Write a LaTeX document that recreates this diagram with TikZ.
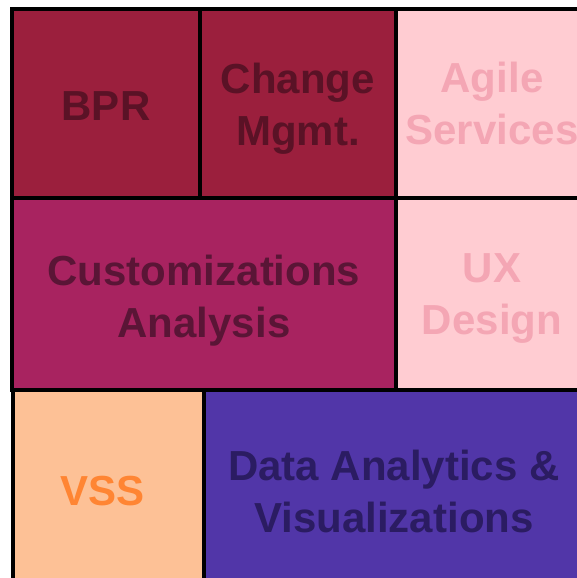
\documentclass[tikz,border=0pt]{standalone}
\usepackage{fontspec}
\setmainfont{Liberation Sans}
\definecolor{bprfill}{HTML}{9B1F3D}
\definecolor{bprtext}{HTML}{5A1226}
\definecolor{agilefill}{HTML}{FFCCD2}
\definecolor{agiletext}{HTML}{F4A6B4}
\definecolor{custfill}{HTML}{A82360}
\definecolor{custtext}{HTML}{5A1536}
\definecolor{vssfill}{HTML}{FDC196}
\definecolor{vsstext}{HTML}{FF8533}
\definecolor{datafill}{HTML}{5136A8}
\definecolor{datatext}{HTML}{2B1C62}
\tikzset{
  tile/.style={draw=black, line width=4pt, rectangle, inner sep=0pt, outer sep=0pt,
    align=center, font=\fontsize{42}{52}\selectfont\bfseries},
}
\begin{document}
\begin{tikzpicture}[x=1pt,y=-1pt]
\useasboundingbox (0,0) rectangle (577,578);
\clip (0,0) rectangle (577,578);
\fill[white] (0,0) rectangle (577,578);
\node[tile, fill=bprfill, text=bprtext, minimum width=188pt, minimum height=189pt] (bpr) at (106,103.5) {\rule{0pt}{34pt}BPR};
\node[tile, fill=bprfill, text=bprtext, minimum width=196pt, minimum height=189pt] (chg) at (298,103.5) {\rule{0pt}{40pt}Change\\Mgmt.};
\node[tile, fill=agilefill, text=agiletext, minimum width=192pt, minimum height=189pt] (agile) at (492,103.5) {Agile\\Services};
\node[tile, fill=custfill, text=custtext, minimum width=384pt, minimum height=192pt] (cust) at (204,294) {\rule{0pt}{43pt}Customizations\\Analysis};
\node[tile, fill=agilefill, text=agiletext, minimum width=192pt, minimum height=192pt] (ux) at (492,294) {\rule{0pt}{37pt}UX\\Design};
\node[tile, fill=vssfill, text=vsstext, minimum width=191pt, minimum height=202pt] (vss) at (108.5,491) {\kern-12pt VSS};
\node[tile, fill=datafill, text=datatext, minimum width=380pt, minimum height=202pt] (data) at (394,491) {Data Analytics \&\\Visualizations};
\end{tikzpicture}
\end{document}
